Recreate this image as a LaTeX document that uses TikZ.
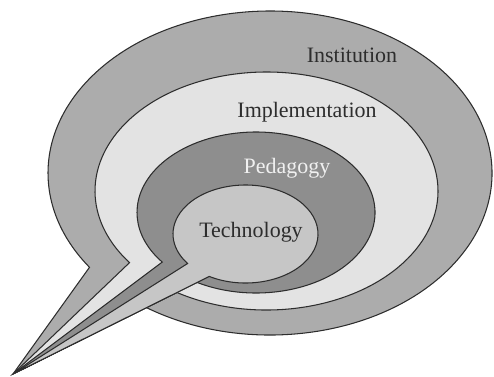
\documentclass[tikz,border=0pt]{standalone}
\usepackage{fontspec}
\setmainfont{Liberation Serif}
\usepackage{tikz}

\definecolor{instgray}{RGB}{172,172,172}
\definecolor{implgray}{RGB}{227,227,227}
\definecolor{pedgray}{RGB}{142,142,142}
\definecolor{techgray}{RGB}{198,198,198}
\definecolor{edgegray}{RGB}{45,45,45}

\begin{document}
\begin{tikzpicture}[
    every node/.style={font=\fontsize{12.5}{14}\selectfont},
    bubble/.style={draw=edgegray, line width=0.6pt, line join=miter},
    label/.style={text=edgegray},
    lightlabel/.style={text=white!94!black}
]
\useasboundingbox (0,0) rectangle (9.88,7.52);

\coordinate (tip) at (0.26,0.04);
\coordinate (instc) at (5.40,4.06);
\coordinate (implc) at (5.33,3.70);
\coordinate (pedc) at (5.12,3.27);
\coordinate (techc) at (4.91,2.84);

% outer bubble
\filldraw[bubble, fill=instgray] ([shift={(instc)}]215.6:4.44cm and 3.24cm) -- (tip)
    -- ([shift={(instc)}]236:4.44cm and 3.24cm)
    arc[start angle=236, end angle=575.6, x radius=4.44cm, y radius=3.24cm] -- cycle;
% second bubble
\filldraw[bubble, fill=implgray] ([shift={(implc)}]217:3.43cm and 2.38cm) -- (tip)
    -- ([shift={(implc)}]238.5:3.43cm and 2.38cm)
    arc[start angle=238.5, end angle=577, x radius=3.43cm, y radius=2.38cm] -- cycle;
% third bubble
\filldraw[bubble, fill=pedgray] ([shift={(pedc)}]218:2.38cm and 1.61cm) -- (tip)
    -- ([shift={(pedc)}]240.3:2.38cm and 1.61cm)
    arc[start angle=240.3, end angle=578, x radius=2.38cm, y radius=1.61cm] -- cycle;
% inner bubble
\filldraw[bubble, fill=techgray] ([shift={(techc)}]217:1.45cm and 0.98cm) -- (tip)
    -- ([shift={(techc)}]240:1.45cm and 0.98cm)
    arc[start angle=240, end angle=577, x radius=1.45cm, y radius=0.98cm] -- cycle;

\node[label] (inst) at (7.04,6.42) {Institution};
\node[label] (impl) at (6.14,5.28) {Implementation};
\node[lightlabel] (ped) at (5.74,4.16) {Pedagogy};
\node[label] (tech) at (5.02,2.88) {Technology};

\end{tikzpicture}
\end{document}
